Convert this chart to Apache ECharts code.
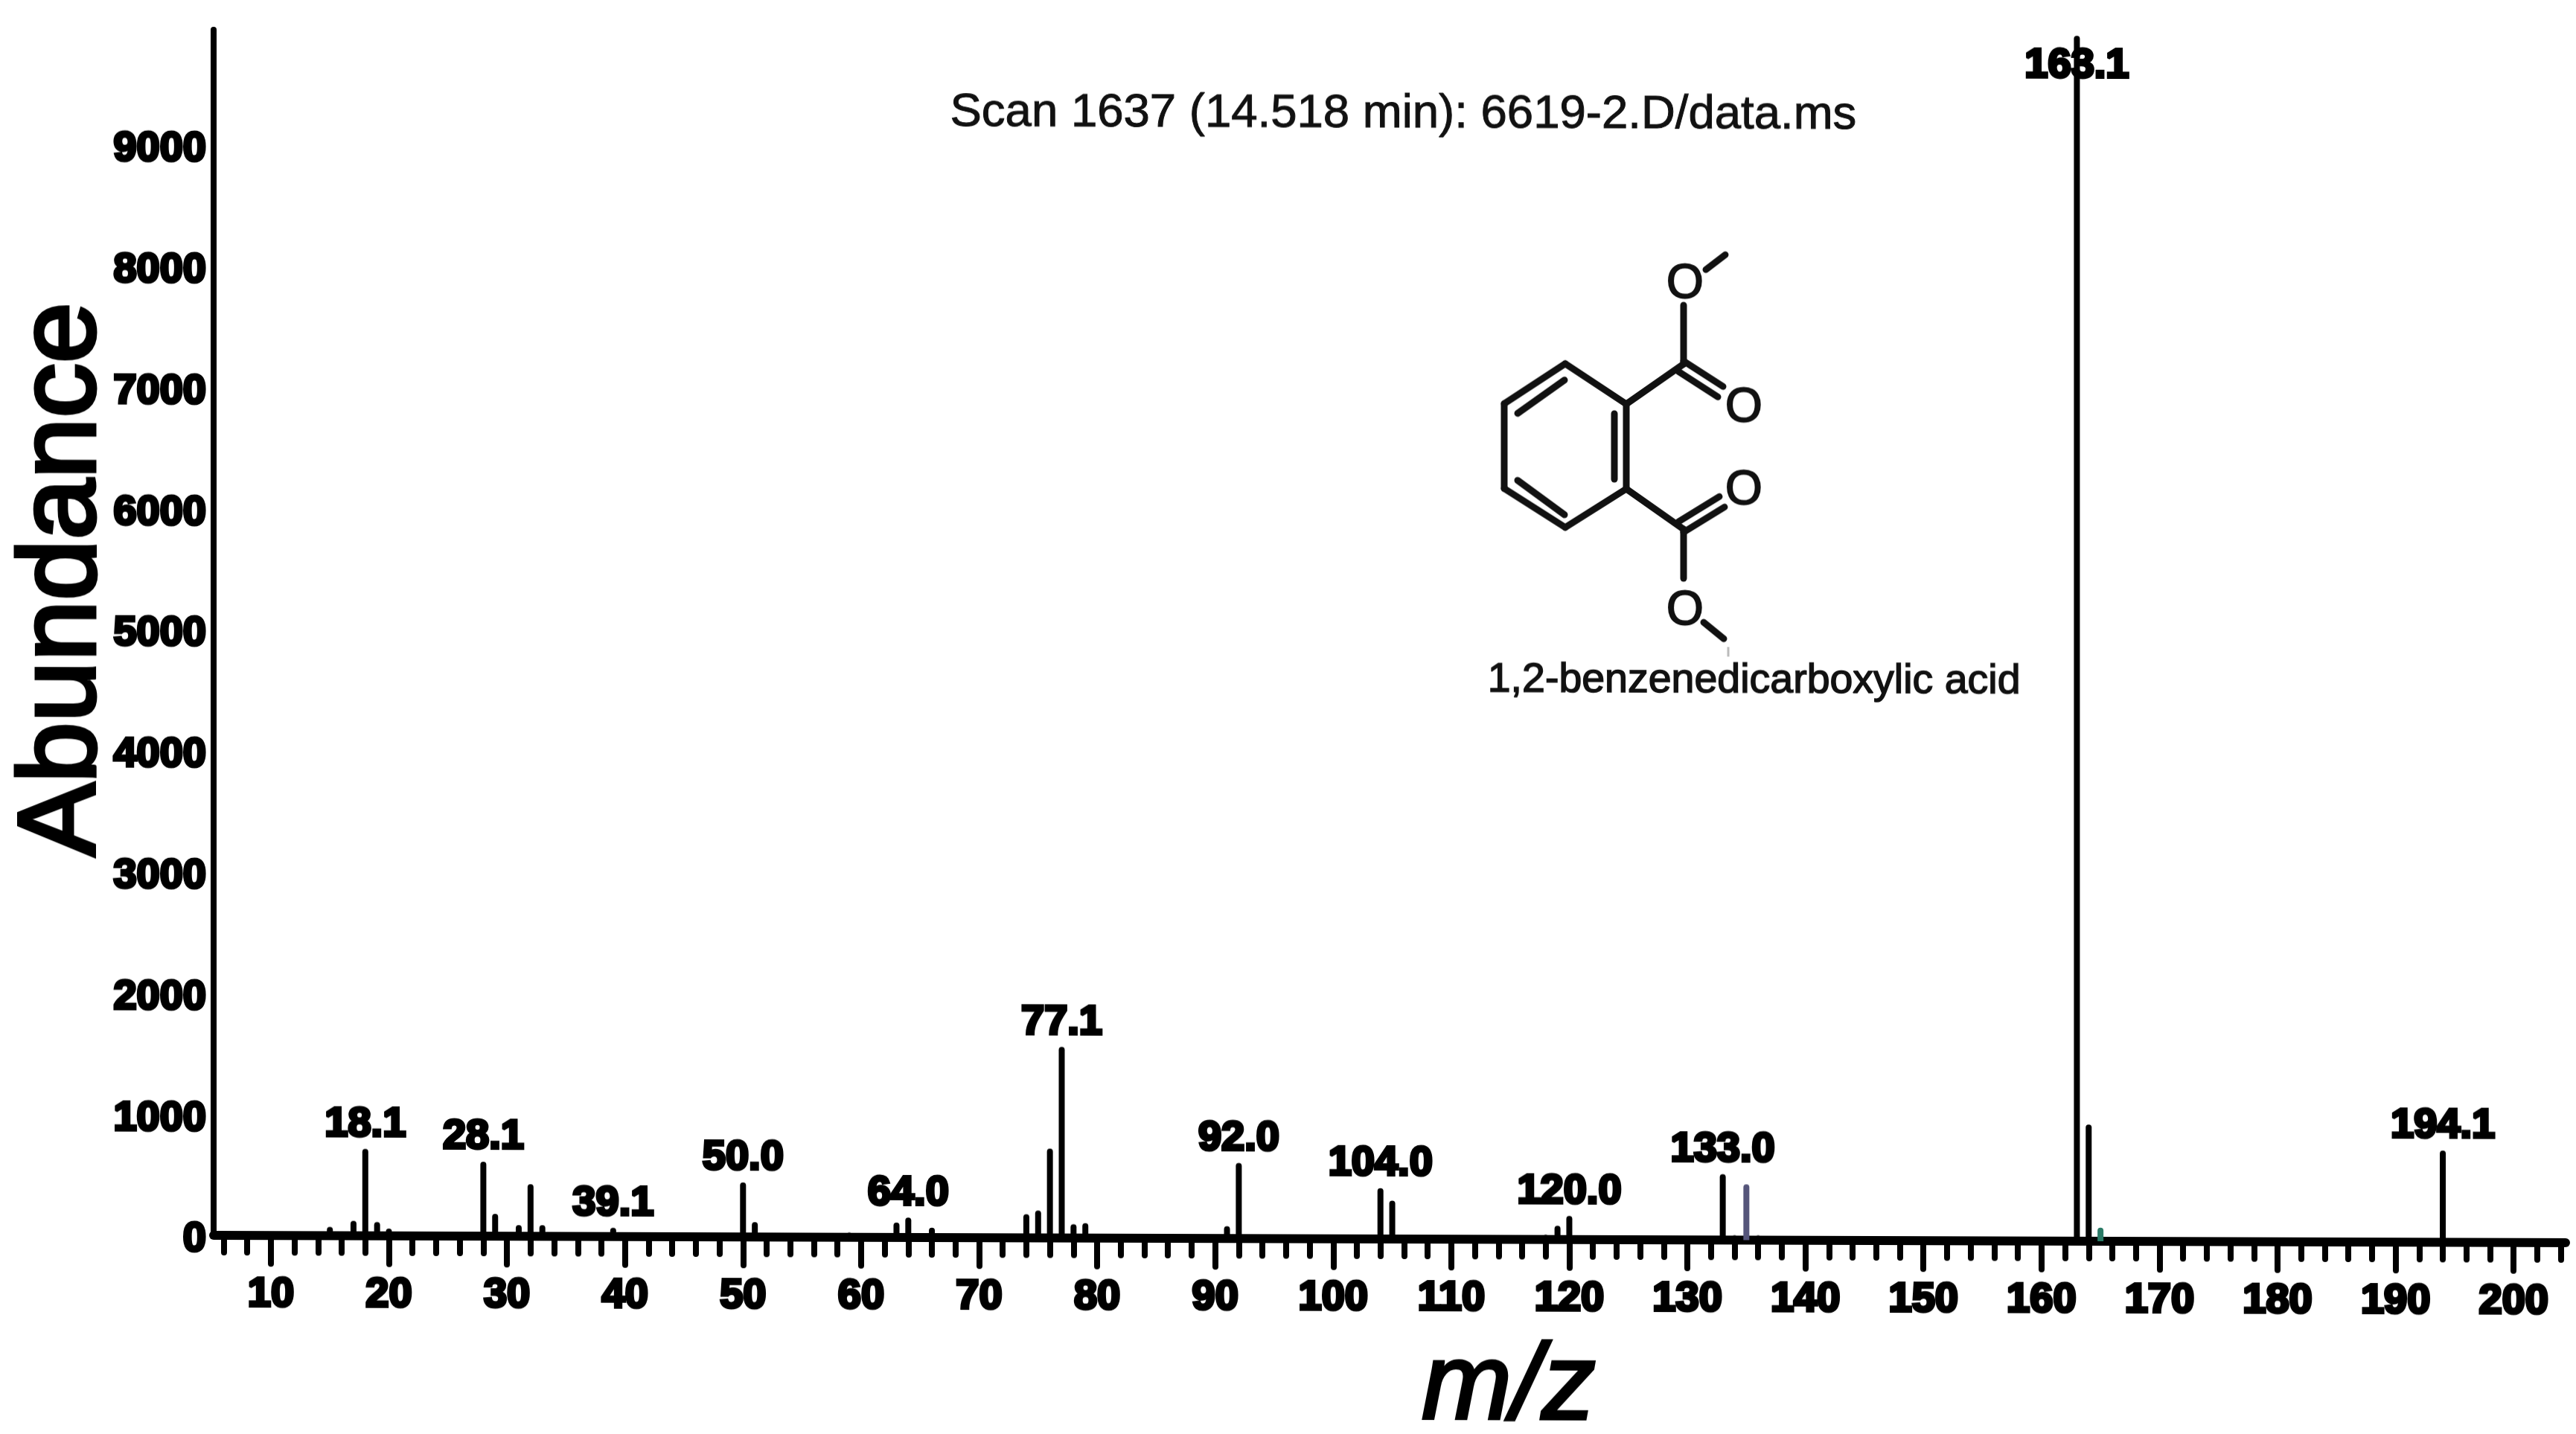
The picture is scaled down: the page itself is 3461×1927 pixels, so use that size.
<!DOCTYPE html>
<html>
<head>
<meta charset="utf-8">
<style>
html,body{margin:0;padding:0;background:#fff;width:3461px;height:1927px;overflow:hidden}
#chart{width:3461px;height:1927px;transform-origin:287px 1660px;transform:skewY(0.18deg)}
</style>
<script src="https://cdn.jsdelivr.net/npm/echarts@6/dist/echarts.min.js"></script>
</head>
<body>
<div id="chart"></div>
<script>
const mzValues = [15,17,18,19,20,28,29,31,32,33,39,50,51,59,63,64,66,74,75,76,77,78,79,91,92,104,105,118,119,120,133,134,135,136,163,164,165,194,196];
const abundanceValues = [72,123,717,113,60,614,184,92,430,92,72,450,123,40,123,164,82,195,225,737,1577,113,123,102,624,420,317,40,113,195,543,40,461,40,9950,963,112,757,20];
const peakLabelMz = [18,28,39,50,64,77,92,104,120,133,163,194];
const peakLabelText = ['18.1','28.1','39.1','50.0','64.0','77.1','92.0','104.0','120.0','133.0','163.1','194.1'];
const xLabelTicks = [10,20,30,40,50,60,70,80,90,100,110,120,130,140,150,160,170,180,190,200];
const xMinorTicks = [6,8,12,14,16,18,22,24,26,28,32,34,36,38,42,44,46,48,52,54,56,58,62,64,66,68,72,74,76,78,82,84,86,88,92,94,96,98,102,104,106,108,112,114,116,118,122,124,126,128,132,134,136,138,142,144,146,148,152,154,156,158,162,164,166,168,172,174,176,178,182,184,186,188,192,194,196,198,202,204];
const scanTitle = 'Scan 1637 (14.518 min): 6619-2.D/data.ms';
const compoundName = '1,2-benzenedicarboxylic acid';
const yName = 'Abundance';
const xName = 'm/z';

const tickFont = {fontFamily:'"Liberation Sans",sans-serif',fontWeight:'bold',fontSize:56,color:'#000',textBorderColor:'#000',textBorderWidth:4};

const bonds = [
 [2103,483,2185,537],[2185,537,2185,651],[2185,651,2103,703],[2103,703,2021,651],[2021,651,2021,537],[2021,537,2103,483],
 [2039,550,2102,505],[2169,550,2169,638],[2039,640,2102,686],
 [2185,537,2262,483],[2262,483,2262,404],[2292,356,2318,336],
 [2262,479,2315,513],[2255,493,2308,527],
 [2185,651,2262,705],[2262,705,2262,771],[2289,830,2316,852],
 [2262,709,2317,675],[2255,695,2310,661]
];
const oxygens = [[2264,376],[2343,542],[2343,653],[2264,815]];

const graphicEls = [
 {type:'text',left:1276,top:116,style:{text:scanTitle,font:'63.5px "Liberation Sans",sans-serif',fill:'#111',stroke:'#111',lineWidth:1}},
 {type:'text',left:1998,top:880,style:{text:compoundName,font:'55.5px "Liberation Sans",sans-serif',fill:'#111',stroke:'#111',lineWidth:1.5}},
 {type:'text',x:86,y:779,rotation:Math.PI/2,style:{text:yName,font:'147px "Liberation Sans",sans-serif',fill:'#000',align:'center',verticalAlign:'middle',stroke:'#000',lineWidth:5}},
 {type:'text',x:2027,y:1861,style:{text:xName,font:'italic 145px "Liberation Sans",sans-serif',fill:'#000',align:'center',verticalAlign:'middle',stroke:'#000',lineWidth:4}},
 {type:'line',shape:{x1:2322,y1:863,x2:2322,y2:876},style:{stroke:'#bbb',lineWidth:3}}
];
bonds.forEach(b=>graphicEls.push({type:'line',shape:{x1:b[0],y1:b[1],x2:b[2],y2:b[3]},style:{stroke:'#111',lineWidth:9,lineCap:'round'}}));
oxygens.forEach(o=>graphicEls.push({type:'text',x:o[0],y:o[1],style:{text:'O',font:'64px "Liberation Sans",sans-serif',fill:'#111',align:'center',verticalAlign:'middle',stroke:'#111',lineWidth:2}}));

const peakData = mzValues.map((m,i)=>{
  const d = {value:[m,abundanceValues[i]]};
  const k = peakLabelMz.indexOf(m);
  if (k>=0) {
    d.label = {show:true,position:'top',distance:5,formatter:peakLabelText[k],...tickFont};
    if (m===163) d.label.offset=[0,73];
  }
  if (m===135) d.itemStyle={color:'#55557a'};
  if (m===165) d.itemStyle={color:'#2a7a66'};
  return d;
});

const chart = echarts.init(document.getElementById('chart'));
chart.setOption({
  animation:false,
  backgroundColor:'#fff',
  grid:{left:287,right:14,top:40,bottom:267,containLabel:false},
  xAxis:[
    {type:'value',position:'bottom',min:5.15,max:204.4,splitLine:{show:false},
     axisLine:{show:true,lineStyle:{color:'#000',width:12,cap:'round'}},
     axisTick:{show:true,customValues:xLabelTicks,length:38,lineStyle:{color:'#000',width:8,cap:'round'}},
     axisLabel:{show:true,customValues:xLabelTicks,margin:52,...tickFont}},
    {type:'value',position:'bottom',min:5.15,max:204.4,splitLine:{show:false},
     axisLine:{show:false},
     axisTick:{show:true,customValues:xMinorTicks,length:23,lineStyle:{color:'#000',width:8,cap:'round'}},
     axisLabel:{show:false}}
  ],
  yAxis:{type:'value',min:0,max:9951,interval:1000,splitLine:{show:false},
     axisLine:{show:true,lineStyle:{color:'#000',width:8}},
     axisTick:{show:false},
     axisLabel:{show:true,margin:10,showMaxLabel:false,formatter:v=>'{t|'+v+'}',rich:{t:{...tickFont,padding:[12,0,0,0]}}}},
  series:[{type:'bar',xAxisIndex:0,yAxisIndex:0,barWidth:8,itemStyle:{color:'#000',borderRadius:[4,4,0,0]},data:peakData,z:3}],
  graphic:{elements:graphicEls}
});
</script>
</body>
</html>
